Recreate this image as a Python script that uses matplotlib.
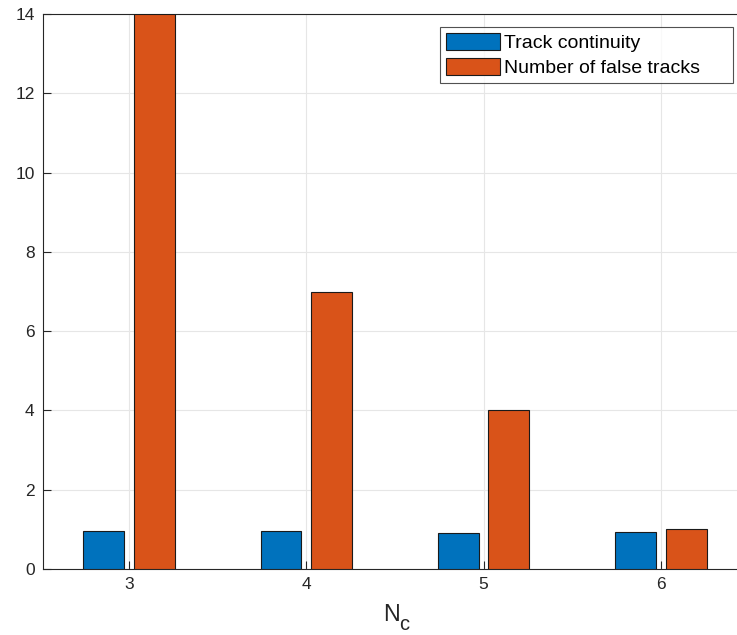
import numpy as np
import matplotlib.pyplot as plt

plt.rcParams['font.family'] = ['Liberation Sans', 'DejaVu Sans']

# data
nc = [3, 4, 5, 6]
continuity = [0.96, 0.97, 0.92, 0.93]
false_tracks = [14, 7, 4, 1]

fig = plt.figure(figsize=(7.37, 6.35), dpi=100)
ax = fig.add_axes([43/737, (635-569)/635, (737-43)/737, (569-14)/635])

x = np.array(nc, dtype=float)
w = 0.23
ax.bar(x - 0.143, continuity, w, color='#0072BD', edgecolor='#1a1a1a', linewidth=0.8,
       label='Track continuity', zorder=3)
# trailing spaces give the wide right margin of the MATLAB legend box
ax.bar(x + 0.143, false_tracks, w, color='#D95319', edgecolor='#1a1a1a', linewidth=0.8,
       label='Number of false tracks     ', zorder=3)

ax.set_xlim(2.515, 6.43)
ax.set_ylim(0, 14)
ax.set_xticks(nc)
ax.set_yticks(range(0, 15, 2))
ax.grid(True, color='#e6e6e6', linewidth=0.8, zorder=0)
ax.set_axisbelow(True)
ax.tick_params(direction='in', length=5.5, width=0.8, colors='#262626', labelsize=12.5, pad=6)
for s in ['left', 'bottom', 'top']:
    ax.spines[s].set_color('#262626')
    ax.spines[s].set_linewidth(0.8)
ax.spines['right'].set_visible(False)

# x label N_c, subscript drawn as its own text
fig.text(383/737, 14/635, 'N', fontsize=16.8, color='#262626', ha='left', va='baseline')
fig.text(399/737, 5/635, 'c', fontsize=14.5, color='#262626', ha='left', va='baseline')

leg = ax.legend(loc='upper right', bbox_to_anchor=(0.994, 0.976), fontsize=14,
                frameon=True, fancybox=False, edgecolor='#262626', borderpad=0.3,
                handlelength=2.8, handleheight=0.95, handletextpad=0.2,
                labelspacing=0.3, borderaxespad=0)
leg.get_frame().set_linewidth(0.8)

fig.savefig('out.png', dpi=100)
